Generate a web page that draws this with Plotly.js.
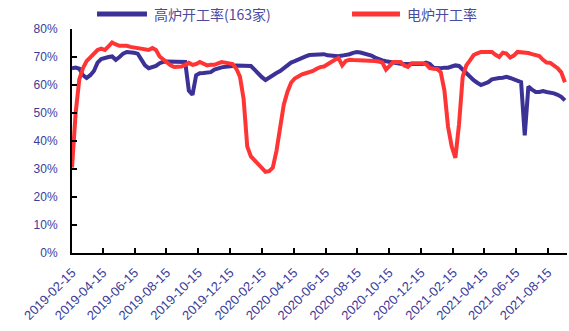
<!DOCTYPE html>
<html>
<head>
<meta charset="utf-8">
<script src="https://cdn.plot.ly/plotly-3.0.1.min.js"></script>
<style>
  html, body { margin: 0; padding: 0; background: #ffffff; }
  #chart { width: 569px; height: 331px; }
</style>
</head>
<body>
<div id="chart"></div>
<script>
// Weekly operating rates (%), one value per Friday starting 2019-02-15
const firstWeek = '2019-02-15';

const seriesNames = ['高炉开工率(163家)', '电炉开工率'];
const seriesColors = ['#3b3196', '#ff3535'];

const blastFurnace = [
  66, 66.2, 65.8, 63.5, 62.5, 63.5, 65, 68, 69.3, 69.8,
  70, 70.2, 69, 70, 71.2, 71.8, 71.8, 71.5, 71.2, 69,
  67, 66, 66.4, 66.8, 67.8, 68.3, 68.4, 68.4, 68.4, 68.4,
  68.4, 68.2, 58, 56.5, 63.5, 64.2, 64.3, 64.5, 64.6, 65.5,
  66, 66.3, 66.5, 66.5, 66.8, 67, 67, 67, 67, 66.8,
  65.5, 64, 62.8, 61.8, 62.5, 63.5, 64.3, 65, 66, 67.2,
  68, 68.5, 69.2, 69.8, 70.2, 70.7, 70.8, 70.8, 71, 71,
  70.6, 70.4, 70.5, 70.3, 70.5, 70.7, 71, 71.5, 71.8, 71.6,
  71.2, 71, 70.5, 69.8, 69.2, 68.8, 68.5, 68.2, 68, 67.8,
  67.6, 67.5, 67.5, 67.2, 67.2, 67.3, 67.5, 68, 67.5, 66.2,
  66, 66, 66.2, 66.2, 66.6, 67, 66.8, 65.5, 63.8, 62.7,
  61.7, 60.8, 60, 60.5, 61, 62, 62.4, 62.5, 62.6, 62.9,
  62.5, 62, 61.5, 61, 42, 59.5, 58.3, 57.5, 57.5, 57.8,
  57.5, 57.4, 57, 56.5, 55.8, 54.5
];

const electricFurnace = [
  30.5, 50, 62, 66, 68.5, 70, 71.5, 72.5, 73, 72.5,
  73.8, 75.2, 74.5, 74, 74, 74, 73.6, 73.4, 73.2, 72.9,
  72.8, 72.5, 73.2, 72.5, 70.2, 69, 68, 67, 66.4, 66.4,
  66.6, 67.2, 67.9, 67.2, 67.5, 68.2, 67.5, 67, 67.2, 67.2,
  67.7, 68.2, 68, 67.9, 67.5, 65.8, 63, 55, 38, 34.5,
  33, 31.8, 30.3, 29, 29.2, 30.5, 36.5, 45, 53, 57.5,
  60.8, 62.3, 63.2, 63.8, 64.2, 64.5, 65, 65.8, 66.4, 66.6,
  67.5, 68.2, 69, 69.6, 67, 68.6, 69, 68.9, 68.9, 68.9,
  68.8, 68.7, 68.6, 68.6, 68.4, 68, 65.5, 67, 68.2, 68.2,
  68.2, 67, 66.5, 67.8, 67.8, 67.8, 67.8, 67.4, 66, 65.8,
  65.7, 64.5, 58, 45, 38, 34, 46, 62.9, 67, 68.8,
  70.7, 71.3, 71.8, 71.8, 71.8, 71.8, 70.8, 70, 71.5, 71.2,
  69.8, 70.5, 71.8, 71.7, 71.4, 71.4, 71, 70.7, 70.3, 69,
  68, 67.9, 67, 66, 64.5, 61
];

const tickDates = [
  '2019-02-15', '2019-04-15', '2019-06-15', '2019-08-15', '2019-10-15', '2019-12-15',
  '2020-02-15', '2020-04-15', '2020-06-15', '2020-08-15', '2020-10-15', '2020-12-15',
  '2021-02-15', '2021-04-15', '2021-06-15', '2021-08-15'
];
const yTicks = [0, 10, 20, 30, 40, 50, 60, 70, 80];

// Friday dates for each weekly observation
function weeklyDates(start, count) {
  const out = [];
  const t0 = Date.parse(start + 'T00:00:00Z');
  for (let i = 0; i < count; i++) {
    out.push(new Date(t0 + i * 7 * 86400000).toISOString().slice(0, 10));
  }
  return out;
}
const weeks = weeklyDates(firstWeek, blastFurnace.length);

const labelColor = '#3c3c9a';
const baseFont = { family: 'Liberation Sans, Arial, sans-serif', size: 12, color: labelColor };

// blast furnace first so the red line sits on top where they overlap
const traces = [
  {
    x: weeks, y: blastFurnace, name: seriesNames[0], type: 'scatter', mode: 'lines',
    line: { color: seriesColors[0], width: 4 }, showlegend: false
  },
  {
    x: weeks, y: electricFurnace, name: seriesNames[1], type: 'scatter', mode: 'lines',
    line: { color: seriesColors[1], width: 4 }, showlegend: false
  }
];

// Key above the plot: a line sample and a caption per series
const keyY = 1.067;
const keySpans = [[0.0505, 0.1515], [0.5657, 0.6626]];
const shapes = keySpans.map((s, k) => ({
  type: 'line', xref: 'paper', yref: 'paper',
  x0: s[0], x1: s[1], y0: keyY, y1: keyY,
  line: { color: seriesColors[k], width: 5 }
}));
const annotations = keySpans.map((s, k) => ({
  xref: 'paper', yref: 'paper', x: s[1] + 0.01, y: keyY,
  xanchor: 'left', yanchor: 'middle', showarrow: false,
  text: seriesNames[k],
  font: { family: 'Noto Sans CJK SC, sans-serif', size: 14, color: '#4a4aa0' }
}));

const layout = {
  width: 569, height: 331,
  margin: { l: 72, r: 2, t: 29, b: 78 },
  paper_bgcolor: '#ffffff', plot_bgcolor: '#ffffff',
  showlegend: false,
  font: baseFont,
  xaxis: {
    type: 'date',
    range: ['2019-02-15', '2021-09-21'],
    tickmode: 'array', tickvals: tickDates, ticktext: tickDates,
    tickangle: -45,
    ticks: 'inside', ticklen: 5, tickwidth: 2, tickcolor: '#000000',
    showline: true, linecolor: '#000000', linewidth: 2,
    showgrid: false, zeroline: false,
    ticklabelstandoff: 5,
    tickfont: { family: baseFont.family, size: 13, color: labelColor }
  },
  yaxis: {
    range: [0, 80],
    tickmode: 'array', tickvals: yTicks, ticktext: yTicks.map(v => v + '%'),
    ticks: 'inside', ticklen: 5, tickwidth: 2, tickcolor: '#000000',
    showline: true, linecolor: '#000000', linewidth: 2,
    showgrid: false, zeroline: false,
    ticklabelstandoff: 10,
    tickfont: baseFont
  },
  shapes: shapes,
  annotations: annotations
};

Plotly.newPlot('chart', traces, layout, { staticPlot: true, displayModeBar: false });
</script>
</body>
</html>
